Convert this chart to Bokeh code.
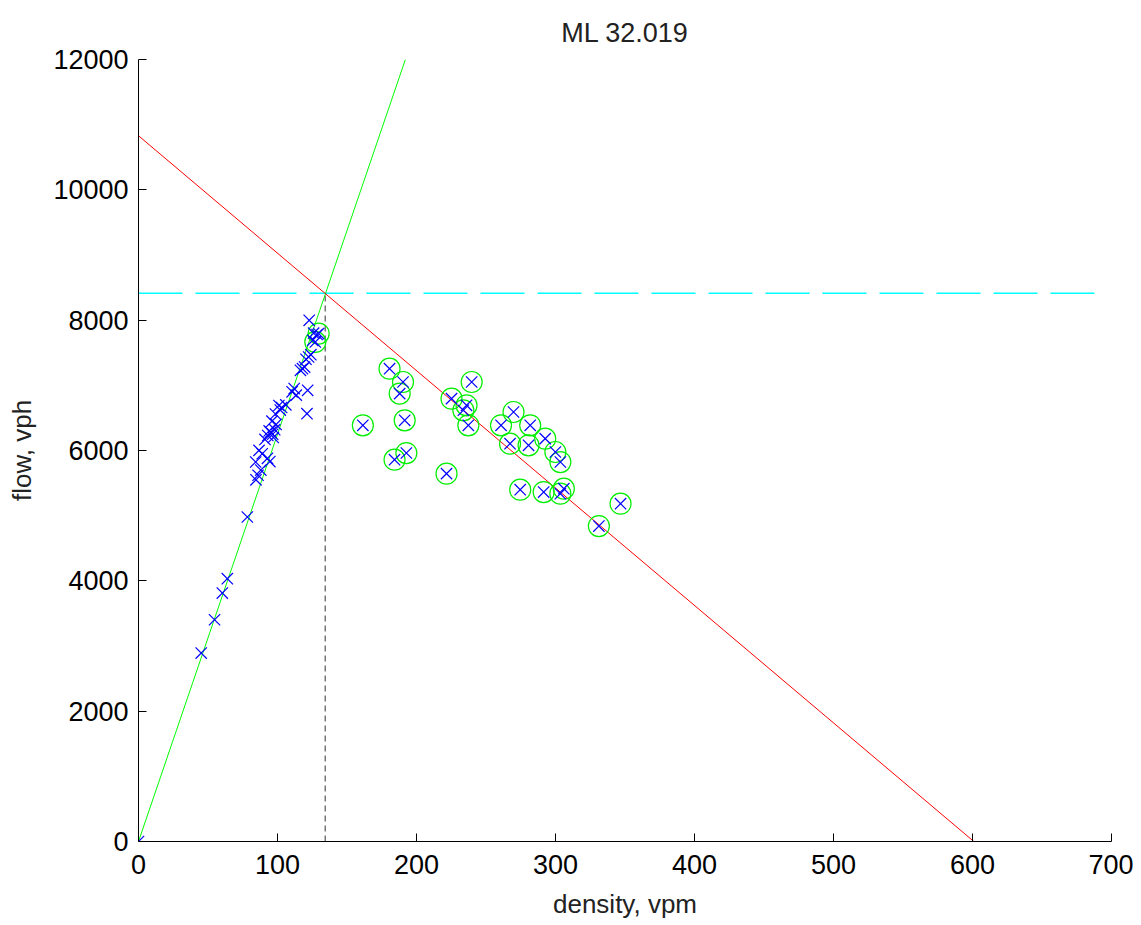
from bokeh.plotting import figure
from bokeh.models import Range1d, FixedTicker, ColumnDataSource
from bokeh.embed import file_html
from bokeh.resources import INLINE

# ---- data ----
free_density = [0, 45.1, 54.7, 60.3, 63.9, 78.3, 84.5, 86.0, 88.0, 84.3, 86.7, 89.0,
                92.8, 94.5, 91.0, 93.0, 95.0, 96.5, 98.0, 94.0, 97.0, 99.0, 96.0, 98.5,
                101.0, 103.0, 102.0, 106.0, 110.5, 112.0, 113.5, 121.7, 121.2, 116.5,
                118.0, 119.5, 120.5, 122.4, 124.0, 125.3, 128.5, 126.0, 122.8]
free_flow = [0, 2891, 3403, 3812, 4033, 4979, 5550, 5620, 5700, 5823, 6002, 5950,
             5880, 5830, 6170, 6230, 6280, 6250, 6320, 6300, 6200, 6400, 6450, 6560,
             6690, 6660, 6620, 6700, 6900, 6950, 6850, 6923, 6565, 7230,
             7256, 7280, 7400, 7435, 7470, 7691, 7780, 7800, 7998]

cong_density = [129.6, 127.2, 180.6, 190.3, 187.9, 239.7, 225.2, 236.0, 233.7, 237.3,
                161.4, 191.5, 269.8, 260.8, 281.8, 267.3, 280.6, 292.6, 299.9, 303.5,
                184.2, 192.7, 221.6, 274.6, 291.5, 303.5, 306.0, 346.8, 331.2]
cong_flow = [7794, 7666, 7256, 7051, 6873, 7051, 6796, 6693, 6617, 6386,
             6386, 6463, 6591, 6386, 6386, 6105, 6079, 6182, 5977, 5823,
             5859, 5961, 5645, 5399, 5362, 5337, 5414, 5184, 4840]

ff_line_density = [0, 192]
ff_line_flow = [0, 12000]
cg_line_density = [0, 601]
cg_line_flow = [10830, 0]
capacity_flow = 8413
capacity_density_span = [0, 694]
critical_density = 134.3

x_ticks = [0, 100, 200, 300, 400, 500, 600, 700]
y_ticks = [0, 2000, 4000, 6000, 8000, 10000, 12000]

FONT = "Liberation Sans"

p = figure(frame_width=973, frame_height=782, output_backend="svg", toolbar_location=None,
           x_range=Range1d(0, 700), y_range=Range1d(0, 12000),
           title="ML 32.019",
           min_border_left=138, min_border_right=22, min_border_top=59, min_border_bottom=40)

p.title.align = "center"
p.title.vertical_align = "top"
p.title.text_font = FONT
p.title.text_font_size = "27px"
p.title.text_font_style = "normal"
p.title.text_color = "#222222"
p.title.standoff = 20

p.outline_line_color = None
p.xgrid.grid_line_color = None
p.ygrid.grid_line_color = None
p.background_fill_color = "white"
p.border_fill_color = "white"

for ax in (p.xaxis[0], p.yaxis[0]):
    ax.major_tick_in = 8
    ax.major_tick_out = 0
    ax.minor_tick_line_color = None
    ax.axis_line_color = "black"
    ax.major_tick_line_color = "black"
    ax.major_label_text_font = FONT
    ax.major_label_text_font_size = "27px"
    ax.major_label_text_color = "black"
    ax.axis_label_text_font = FONT
    ax.axis_label_text_font_size = "26px"
    ax.axis_label_text_font_style = "normal"
    ax.axis_label_text_color = "#222222"

p.xaxis.ticker = FixedTicker(ticks=x_ticks)
p.yaxis.ticker = FixedTicker(ticks=y_ticks)
p.xaxis.axis_label = "density, vpm"
p.yaxis.axis_label = "flow, vph"
p.xaxis.major_label_standoff = 13
p.yaxis.major_label_standoff = 10
p.xaxis.axis_label_standoff = 12
p.yaxis.axis_label_standoff = 13

# capacity line (cyan dashed)
p.line(capacity_density_span, [capacity_flow, capacity_flow], line_color="#00ffff",
       line_width=1.5, line_dash="44 13")
# critical density (black dashed)
p.line([critical_density, critical_density], [0, capacity_flow], line_color="#333333",
       line_width=1, line_dash="6 4")
# free-flow line
p.line(ff_line_density, ff_line_flow, line_color="#00ff00", line_width=1)
# congested line
p.line(cg_line_density, cg_line_flow, line_color="#ff0000", line_width=1)

src_free = ColumnDataSource(dict(x=free_density, y=free_flow))
src_cong = ColumnDataSource(dict(x=cong_density, y=cong_flow))

p.scatter("x", "y", source=src_cong, marker="circle", size=21, fill_color=None,
          line_color="#00ee00", line_width=1.2)
p.scatter("x", "y", source=src_free, marker="x", size=16, line_color="#0000ff", line_width=1.2)
p.scatter("x", "y", source=src_cong, marker="x", size=16, line_color="#0000ff", line_width=1.2)

open("out.html", "w").write(file_html(p, INLINE))
